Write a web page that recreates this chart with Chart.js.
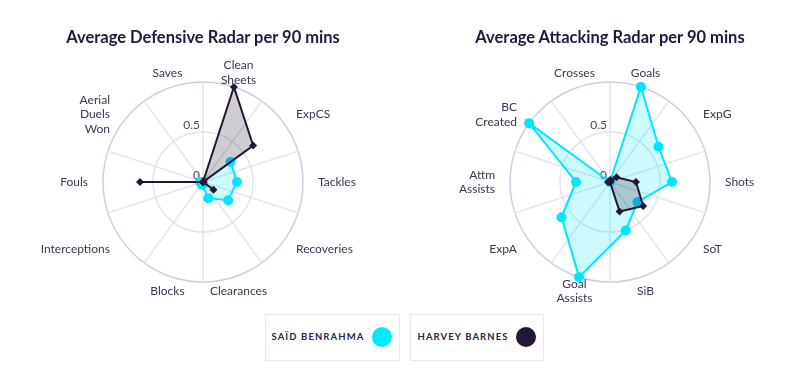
<!DOCTYPE html>
<html>
<head>
<meta charset="utf-8">
<script src="https://cdn.jsdelivr.net/npm/chart.js@4.4.1/dist/chart.umd.min.js"></script>
<style>
  body { margin: 0; background: #fff; width: 800px; height: 369px; position: relative; overflow: hidden; font-family: Lato, sans-serif; }
  .wrap { position: absolute; top: 0; width: 400px; height: 313px; }
  #wrapDef { left: 3px; }
  #wrapAtt { left: 410px; }
  .title { position: absolute; top: 27px; width: 400px; text-align: center; font-size: 16.5px; line-height: 20px; font-weight: bold; color: #1d1a3b; }
  .legend-box { position: absolute; top: 314px; height: 47px; border: 1.5px solid #e9e9ec; box-sizing: border-box; }
  .legend-box span { position: absolute; top: 16px; font-size: 9.5px; line-height: 12px; font-weight: bold; letter-spacing: 1.1px; color: #2a2540; }
  .legend-box i { position: absolute; top: 12px; width: 20px; height: 20px; border-radius: 50%; }
</style>
</head>
<body>
<div class="wrap" id="wrapDef"><canvas id="defChart"></canvas></div>
<div class="wrap" id="wrapAtt"><canvas id="attChart"></canvas></div>
<div class="title" style="left:3px;">Average Defensive Radar per 90 mins</div>
<div class="title" style="left:410px;">Average Attacking Radar per 90 mins</div>
<div class="legend-box" style="left:265px; width:135px;"><span style="left:5.5px;">SAÏD BENRAHMA</span><i style="left:105.5px; background:#00eaff;"></i></div>
<div class="legend-box" style="left:410px; width:134px;"><span style="left:6.5px;">HARVEY BARNES</span><i style="left:104.5px; background:#231636;"></i></div>
<script>
// defensive radar
const defCategories = [["Clean", "Sheets"], "ExpCS", "Tackles", "Recoveries", "Clearances", "Blocks", "Interceptions", "Fouls", ["Aerial", "Duels", "Won"], "Saves"];
const defSaid = [0, 0.34, 0.34, 0.31, 0.17, 0.03, 0, 0.03, 0, 0];
const defHarvey = [1.0, 0.62, 0, 0.13, 0, 0, 0, 0.63, 0, 0];

// attacking radar
const attCategories = ["Goals", "ExpG", "Shots", "SoT", "SiB", ["Goal", "Assists"], "ExpA", ["Attm", "Assists"], ["BC", "Created"], "Crosses"];
const attSaid = [1.0, 0.6, 0.62, 0.34, 0.51, 1.0, 0.6, 0.34, 1.0, 0];
const attHarvey = [0.02, 0.08, 0.26, 0.41, 0.31, 0, 0, 0.02, 0, 0];

const tickValues = [0, 0.5];

const saidColor = "#00e6ff";
const harveyColor = "#241634";

// categories sit between spokes, so every category gets an empty slot before it
function withGaps(arr, gap) {
  const out = [];
  arr.forEach((v) => out.push(gap, v));
  return out;
}

const tickLabels = {
  id: "tickLabels",
  beforeDatasetsDraw(chart) {
    const s = chart.scales.r;
    const ctx = chart.ctx;
    ctx.save();
    ctx.font = "12px Lato";
    ctx.fillStyle = "#4a4560";
    ctx.textAlign = "right";
    ctx.textBaseline = "bottom";
    tickValues.forEach((v) => {
      const d = s.getDistanceFromCenterForValue(v);
      ctx.fillText(String(v), s.xCenter - 3, s.yCenter - d - 1);
    });
    ctx.restore();
  },
};

// category names, centred in the gap between two spokes
const categoryLabels = {
  id: "categoryLabels",
  afterDraw(chart, args, opts) {
    const s = chart.scales.r;
    const ctx = chart.ctx;
    ctx.save();
    ctx.font = "12px Lato";
    ctx.fillStyle = "#3c3551";
    ctx.textBaseline = "middle";
    opts.categories.forEach((c, i) => {
      const idx = 2 * i + 1;
      const p = s.getPointPosition(idx, s.drawingArea + 15);
      const sn = Math.sin(s.getIndexAngle(idx));
      ctx.textAlign = Math.abs(sn) < 0.5 ? "center" : sn > 0 ? "left" : "right";
      const lines = Array.isArray(c) ? c : [c];
      lines.forEach((ln, k) => {
        ctx.fillText(ln, p.x, p.y + (k - (lines.length - 1) / 2) * 14.5);
      });
    });
    ctx.restore();
  },
};

function makeRadar(id, categories, said, harvey) {
  new Chart(id, {
    type: "radar",
    data: {
      labels: withGaps(categories.map((c) => [].concat(c).join(" ")), ""),
      datasets: [
        {
          label: "Saïd Benrahma",
          data: withGaps(said, null),
          order: 2,
          spanGaps: true,
          borderColor: saidColor,
          backgroundColor: "rgba(0, 230, 255, 0.2)",
          borderWidth: 2,
          fill: true,
          pointRadius: 5,
          pointStyle: "circle",
          pointBackgroundColor: saidColor,
          pointBorderWidth: 0,
        },
        {
          label: "Harvey Barnes",
          data: withGaps(harvey, null),
          order: 1,
          spanGaps: true,
          borderColor: harveyColor,
          backgroundColor: "rgba(36, 22, 52, 0.22)",
          borderWidth: 2,
          fill: true,
          pointRadius: 4,
          pointStyle: "rectRot",
          pointBackgroundColor: harveyColor,
          pointBorderWidth: 0,
        },
      ],
    },
    options: {
      responsive: true,
      maintainAspectRatio: false,
      animation: false,
      layout: { padding: { left: 99, right: 99, top: 82, bottom: 30 } },
      plugins: {
        legend: { display: false },
        tooltip: { enabled: false },
        categoryLabels: { categories: categories },
      },
      scales: {
        r: {
          min: 0,
          max: 1,
          startAngle: 0,
          ticks: { display: false, stepSize: 0.5 },
          grid: {
            circular: true,
            color: (ctx) => (ctx.tick && ctx.tick.value === 1 ? "#c9cfe6" : "#e4e4e6"),
            lineWidth: 1.5,
          },
          angleLines: {
            color: (ctx) => (ctx.label === "" ? "#e4e4e6" : "rgba(0,0,0,0)"),
            lineWidth: 1.5,
          },
          pointLabels: { display: false },
        },
      },
    },
    plugins: [tickLabels, categoryLabels],
  });
}

makeRadar("defChart", defCategories, defSaid, defHarvey);
makeRadar("attChart", attCategories, attSaid, attHarvey);
</script>
</body>
</html>
